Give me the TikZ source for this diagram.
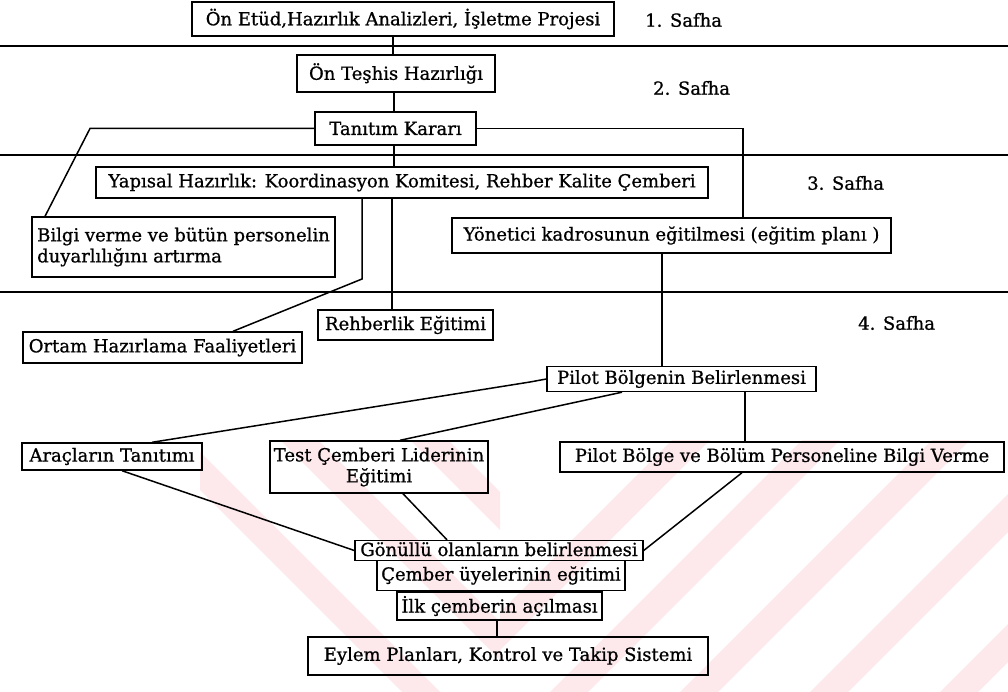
\documentclass[tikz,border=0pt]{standalone}
\usepackage{fontspec}
\setmainfont{DejaVu Serif}[AutoFakeBold=0.8]
\usetikzlibrary{calc}
\definecolor{wm}{RGB}{253,232,236}
\begin{document}
\begin{tikzpicture}[x=1pt,y=-1pt,
  box/.style={draw,line width=1.4pt,inner sep=0pt,align=center,font=\fontsize{18}{21}\selectfont\bfseries},
  conn/.style={line width=1.5pt},
  rule/.style={line width=1.5pt},
  lbl/.style={inner sep=0pt,anchor=west,font=\fontsize{18}{21}\selectfont\bfseries}]
\fill[white] (0,0) rectangle (1008,692);
\useasboundingbox (0,0) rectangle (1008,692);
% faint watermark stripes
\begin{scope}
  \clip (500,440) rectangle (1008,692);
  \foreach \s in {0,...,5} {
    \fill[wm] (420+\s*130,692) -- ++(38,0) -- ++(260,-260) -- ++(-38,0) -- cycle;
  }
\end{scope}
\begin{scope}
  \clip (200,440) rectangle (500,692);
  \foreach \s in {0,...,3} {
    \fill[wm] (150+\s*130,440) -- ++(38,0) -- ++(260,260) -- ++(-38,0) -- cycle;
  }
\end{scope}
% phase rules
\draw[rule] (0,46) -- (1008,46);
\draw[rule] (0,155) -- (1008,155);
\draw[rule] (0,292) -- (1008,292);
% nodes
\node[box,minimum width=422pt,minimum height=34pt] (n1) at (403,19) {Ön Etüd,Hazırlık Analizleri, İşletme Projesi};
\node[box,minimum width=198pt,minimum height=37pt] (n2) at (396,73.5) {Ön Teşhis Hazırlığı};
\node[box,minimum width=161pt,minimum height=33pt] (n3) at (395.5,128.5) {Tanıtım Kararı};
\node[box,minimum width=612pt,minimum height=31pt] (n4) at (402,182.5) {Yapısal Hazırlık: Koordinasyon Komitesi, Rehber Kalite Çemberi};
\node[box,minimum width=303pt,minimum height=60pt,align=left] (n5) at (183.5,247) {Bilgi verme ve bütün personelin\\duyarlılığını artırma};
\node[box,minimum width=439pt,minimum height=35pt] (n6) at (671.5,235.5) {Yönetici kadrosunun eğitilmesi (eğitim planı )};
\node[box,minimum width=279pt,minimum height=31pt] (n7) at (162.5,347.5) {Ortam Hazırlama Faaliyetleri};
\node[box,minimum width=175pt,minimum height=30pt] (n8) at (405.5,325) {Rehberlik Eğitimi};
\node[box,minimum width=269pt,minimum height=25pt] (n9) at (681.5,379) {Pilot Bölgenin Belirlenmesi};
\node[box,minimum width=180pt,minimum height=27pt] (n10) at (112,456.5) {Araçların Tanıtımı};
\node[box,minimum width=218pt,minimum height=52pt] (n11) at (379,467) {Test Çemberi Liderinin\\Eğitimi};
\node[box,minimum width=444pt,minimum height=30pt] (n12) at (782,457) {Pilot Bölge ve Bölüm Personeline Bilgi Verme};
\node[box,minimum width=288pt,minimum height=20pt,text height=14pt,text depth=3pt] (n13) at (499,550.5) {Gönüllü olanların belirlenmesi};
\node[box,minimum width=248pt,minimum height=30pt] (n14) at (501,575.5) {Çember üyelerinin eğitimi};
\node[box,minimum width=205pt,minimum height=28pt] (n15) at (499.5,606) {İlk çemberin açılması};
\node[box,minimum width=400pt,minimum height=38pt] (n16) at (508,656) {Eylem Planları, Kontrol ve Takip Sistemi};
% phase labels
\node[lbl] (s1) at (645,20) {1. Safha};
\node[lbl] (s2) at (653,88) {2. Safha};
\node[lbl] (s3) at (807,183) {3. Safha};
\node[lbl] (s4) at (858,323) {4. Safha};
% helper coordinates
\coordinate (x393) at (393,0);
\coordinate (x394) at (394,0);
\coordinate (x45) at (45,0);
\coordinate (x743) at (743,0);
\coordinate (x362) at (362,0);
\coordinate (x233) at (233,0);
\coordinate (x392) at (392,0);
\coordinate (x662) at (662,0);
\coordinate (x152) at (152,0);
\coordinate (x622) at (622,0);
\coordinate (x400) at (400,0);
\coordinate (x745) at (745,0);
\coordinate (x122) at (122,0);
\coordinate (x403) at (403,0);
\coordinate (x447) at (447,0);
\coordinate (x742) at (742,0);
\coordinate (x497) at (497,0);
\coordinate (k1) at (90,128.5);
\coordinate (k2) at (362,279);
\coordinate (k3) at (530,382);
% connectors
\draw[conn] (n1.south -| x393) -- (n2.north -| x393);
\draw[conn] (n2.south -| x394) -- (n3.north -| x394);
\draw[conn] (n3.south -| x394) -- (n4.north -| x394);
\draw[conn] (n3.west) -- (k1) -- (n5.north -| x45);
\draw[conn] (n3.east) -| (n6.north -| x743);
\draw[conn] (n4.south -| x362) -- (k2) -- (n7.north -| x233);
\draw[conn] (n4.south -| x392) -- (n8.north -| x392);
\draw[conn] (n6.south -| x662) -- (n9.north -| x662);
\draw[conn] (n9.west) -- (k3) -- (n10.north -| x152);
\draw[conn] (n9.south -| x622) -- (n11.north -| x400);
\draw[conn] (n9.south -| x745) -- (n12.north -| x745);
\draw[conn] (n10.south -| x122) -- (n13.west);
\draw[conn] (n11.south -| x403) -- (n13.north -| x447);
\draw[conn] (n12.south -| x742) -- (n13.east);
\draw[conn] (n15.south -| x497) -- (n16.north -| x497);
\end{tikzpicture}
\end{document}
